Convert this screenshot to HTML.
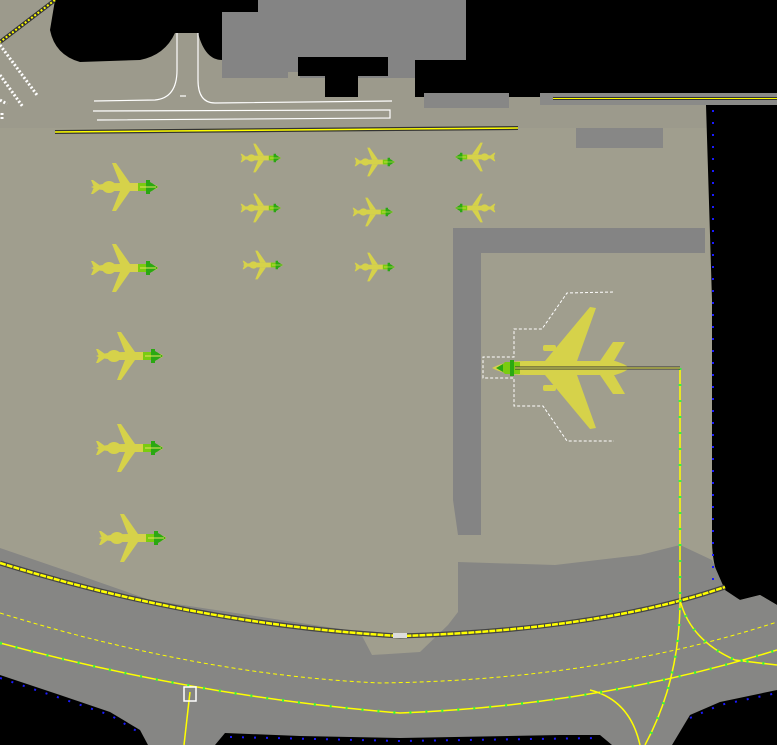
<!DOCTYPE html>
<html><head><style>html,body{margin:0;padding:0;background:#000}svg{display:block}</style></head>
<body>
<svg width="777" height="745" viewBox="0 0 777 745" xmlns="http://www.w3.org/2000/svg">
<defs>
<g id="pl">
  <path d="M-29,0 Q-20,-4 0,-4 L28,-4 Q38,-2 38,0 Q38,2 28,4 L0,4 Q-20,4 -29,0Z" fill="#d6d24a"/>
  <path d="M10,-4 L-4,-24 L-8,-24 L0,-4Z M10,4 L-4,24 L-8,24 L0,4Z" fill="#d6d24a"/>
  <path d="M-26,0 L-29,-7 L-27,-7 L-20,-2Z M-26,0 L-29,7 L-27,7 L-20,2Z" fill="#d6d24a"/>
  <ellipse cx="-11" cy="0" rx="7" ry="6" fill="#d6d24a"/>
  <path d="M18,-4 L32,-4 Q38,0 32,4 L18,4Z" fill="#7acc10"/>
  <path d="M26,-7 L30,-7 L30,7 L26,7Z M30,-5 L38,0 L30,5Z" fill="#2aa812"/>
  <line x1="20" y1="0" x2="36" y2="0" stroke="#e8e060" stroke-width="1"/>
</g>
</defs>
<rect width="777" height="745" fill="#a09e8e"/>
<!-- top gray zone -->
<rect x="0" y="0" width="777" height="128" fill="#9c9a8c"/>
<!-- building -->
<path d="M222,12 L258,12 L258,0 L466,0 L466,60 L415,60 L415,78 L300,78 L300,72 L288,72 L288,78 L222,78Z" fill="#848484"/>
<path d="M298,57 L388,57 L388,76 L358,76 L358,97 L325,97 L325,76 L298,76Z" fill="#000"/>
<!-- black regions -->
<path d="M55,0 L258,0 L258,12 L222,12 L222,60 Q205,60 198,33 L175,33 Q165,55 140,60 L80,62 Q55,55 50,30Z" fill="#000"/>
<path d="M466,0 L777,0 L777,93 L540,93 L540,97 L415,97 L415,60 L466,60Z" fill="#000"/>
<path d="M706,105 L777,105 L777,605 L760,595 L740,600 L725,592 Q712,570 712,540 L712,300 Z" fill="#000"/>
<rect x="540" y="93" width="237" height="12" fill="#8a8a88"/>
<line x1="553" y1="98.5" x2="777" y2="98.5" stroke="#333" stroke-width="3"/>
<line x1="553" y1="98.5" x2="777" y2="98.5" stroke="#ffff00" stroke-width="1"/>
<rect x="424" y="93" width="85" height="15" fill="#878786"/>
<rect x="576" y="128" width="87" height="20" fill="#878786"/>
<!-- top-left diagonal lines -->
<line x1="55" y1="0" x2="0" y2="42" stroke="#333" stroke-width="4"/>
<line x1="55" y1="0" x2="0" y2="42" stroke="#ffff00" stroke-width="2" stroke-dasharray="2 2"/>
<line x1="0" y1="45" x2="37" y2="95" stroke="#fff" stroke-width="3" stroke-dasharray="2 2"/>
<line x1="0" y1="75" x2="23" y2="107" stroke="#fff" stroke-width="3" stroke-dasharray="2 2"/>
<line x1="0" y1="100" x2="7" y2="104" stroke="#fff" stroke-width="3" stroke-dasharray="2 2"/>
<line x1="2" y1="113" x2="2" y2="120" stroke="#fff" stroke-width="3" stroke-dasharray="2 2"/>
<!-- white taxi lines -->
<g stroke="#fff" stroke-width="1.2" fill="none">
<path d="M177,33 L177,70 Q177,98 155,100 L94,101"/>
<path d="M198,33 L198,80 Q198,103 215,103 L392,101"/>
<path d="M93,111 L390,110 L390,118 L97,120"/>
<line x1="180" y1="96" x2="186" y2="96"/>
</g>
<line x1="55" y1="132" x2="518" y2="128" stroke="#333" stroke-width="4"/>
<line x1="55" y1="132" x2="518" y2="128" stroke="#ffff00" stroke-width="1.5"/>
<!-- dark roads -->
<path d="M453,228 L705,228 L705,253 L481,253 L481,535 L458,535 L453,500Z" fill="#848484"/>
<!-- bottom gray taxiway -->
<path d="M0,548 L70,572 L150,600 L360,632 L372,655 L420,652 L448,625 L458,612 L458,562 L555,565 L640,555 L680,545 L712,560 L725,590 L740,600 L760,595 L777,605 L777,745 L0,745Z" fill="#868684"/>
<!-- bottom black -->
<path d="M0,675 L60,695 L110,712 L140,730 L148,745 L0,745Z" fill="#000"/>
<path d="M215,745 L225,733 L300,736 L400,738 L560,735 L600,735 L612,745Z" fill="#000"/>
<path d="M672,745 L690,715 L720,702 L777,690 L777,745Z" fill="#000"/>
<!-- blue dots -->
<g stroke="#1a1aff" stroke-width="2" stroke-dasharray="2 10" fill="none">
<line x1="713" y1="110" x2="713" y2="580"/>
<path d="M0,678 L60,698 L110,715 L140,733"/>
<path d="M230,737 L400,741 L600,738"/>
<path d="M690,718 L720,705 L777,693"/>
</g>
<!-- yellow apron edge -->
<path d="M0,563 Q200,625 400,636 Q600,630 725,587" fill="none" stroke="#444" stroke-width="5"/>
<path d="M0,563 Q200,625 400,636 Q600,630 725,587" fill="none" stroke="#ffff00" stroke-width="2.5" stroke-dasharray="6 1"/>
<rect x="393" y="633" width="14" height="5" fill="#ddd"/>
<!-- dashed yellow -->
<path d="M0,613 Q200,675 380,683 Q600,680 777,622" fill="none" stroke="#ffff00" stroke-width="1" stroke-dasharray="4 3"/>
<!-- green dotted taxi lines -->
<g fill="none" stroke="#ffff00" stroke-width="1.5">
<path d="M0,643 Q200,697 400,713 Q600,705 777,650"/>
<path d="M680,368 L680,600 Q680,680 645,745"/>
<path d="M680,600 Q690,640 735,660 L777,665"/>
<path d="M590,690 Q630,700 640,745"/>
<path d="M190,692 L184,745"/>
</g>
<g fill="none" stroke="#3cf040" stroke-width="3" stroke-dasharray="2 14">
<path d="M0,643 Q200,697 400,713 Q600,705 777,650"/>
<path d="M680,368 L680,600 Q680,680 645,745"/>
<path d="M680,600 Q690,640 735,660 L777,665"/>
</g>
<rect x="184" y="687" width="12" height="14" fill="none" stroke="#fff" stroke-width="1.5"/>
<!-- small planes -->
<use href="#pl" transform="translate(120,187)"/>
<use href="#pl" transform="translate(120,268)"/>
<use href="#pl" transform="translate(125,356)"/>
<use href="#pl" transform="translate(125,448)"/>
<use href="#pl" transform="translate(128,538)"/>
<use href="#pl" transform="translate(258,158) scale(0.6)"/>
<use href="#pl" transform="translate(258,208) scale(0.6)"/>
<use href="#pl" transform="translate(260,265) scale(0.6)"/>
<use href="#pl" transform="translate(372,162) scale(0.6)"/>
<use href="#pl" transform="translate(370,212) scale(0.6)"/>
<use href="#pl" transform="translate(372,267) scale(0.6)"/>
<use href="#pl" transform="translate(478,157) scale(-0.6,0.6)"/>
<use href="#pl" transform="translate(478,208) scale(-0.6,0.6)"/>
<!-- big plane -->
<g fill="#d6d24a">
<path d="M492,368 Q505,361 525,361 L615,361 Q628,365 628,368 Q628,371 615,375 L525,375 Q505,375 492,368Z"/>
<path d="M545,361 L590,307 L596,308 L577,361Z M545,375 L590,429 L596,428 L577,375Z"/>
<path d="M600,361 L613,342 L625,342 L614,361Z M600,375 L613,394 L625,394 L614,375Z"/>
<rect x="543" y="345" width="13" height="6" rx="2"/>
<rect x="543" y="385" width="13" height="6" rx="2"/>
</g>
<path d="M505,362 L520,362 L520,374 L505,374 Q498,368 505,362Z" fill="#7acc10"/>
<path d="M510,360 L514,360 L514,376 L510,376Z M503,364 L496,368 L503,372Z" fill="#2aa812"/>
<line x1="515" y1="368" x2="680" y2="368" stroke="#333" stroke-width="3"/>
<line x1="515" y1="368" x2="680" y2="368" stroke="#ffff60" stroke-width="1"/>
<path d="M613,292 L567,293 L542,329 L514,329 L514,357 L483,357 L483,378 L514,378 L514,406 L543,406 L567,441 L614,441" fill="none" stroke="#fff" stroke-width="1" stroke-dasharray="3 2"/>
</svg>
</body></html>
